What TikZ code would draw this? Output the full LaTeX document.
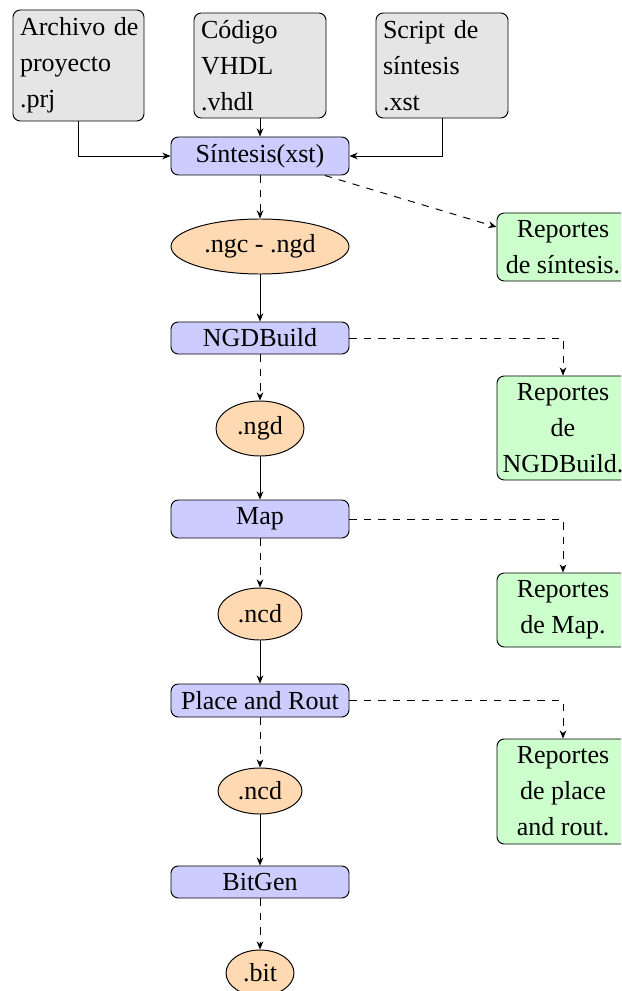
\documentclass[tikz,border=0pt]{standalone}
\usepackage{fontspec}
\setmainfont{Liberation Serif}
\usetikzlibrary{shapes.geometric,arrows.meta}
\newcommand\pxu{0.415pt}
\tikzset{
  every node/.style={font=\fontsize{10.8}{14.9}\selectfont},
  inbox/.style={draw, rounded corners=3pt, fill=black!10, inner sep=0pt, align=left},
  tool/.style={draw, rounded corners=3pt, fill=blue!20, inner sep=0pt, minimum width={178*\pxu}},
  file/.style={draw, ellipse, fill=orange!30, inner sep=0pt},
  report/.style={draw, rounded corners=3pt, fill=green!20, inner sep=0pt, align=center, minimum width={132*\pxu}},
  conn/.style={-{Stealth[length=3.4pt,width=2.8pt]}},
  dconn/.style={conn, dashed},
}
\begin{document}
\begin{tikzpicture}[x=\pxu, y=-\pxu]
\clip (0,0) rectangle (621,991);
\fill[white] (0,0) rectangle (621,991);
% inputs
\node[inbox, text width={117*\pxu}, minimum width={131*\pxu}, minimum height={111*\pxu}] (prj) at (78.5,65.5) {\mbox{Archivo de}\\proyecto\\.prj};
\node[inbox, text width={118*\pxu}, minimum width={132*\pxu}, minimum height={105*\pxu}] (vhd) at (260,65.5) {Código\\VHDL\\.vhdl};
\node[inbox, text width={118*\pxu}, minimum width={132*\pxu}, minimum height={105*\pxu}] (xst) at (442,65.5) {\mbox{Script de}\\síntesis\\.xst};
% main column
\node[tool, minimum height={38*\pxu}] (sint) at (260,156) {Síntesis(xst)};
\node[file, minimum width={178*\pxu}, minimum height={55*\pxu}] (ngc) at (260,246.5) {.ngc - .ngd};
\node[tool, minimum height={32*\pxu}] (ngdb) at (260,338) {NGDBuild};
\node[file, minimum width={88*\pxu}, minimum height={55*\pxu}] (ngd) at (260,428.5) {.ngd};
\node[tool, minimum height={38*\pxu}] (map) at (260,519) {Map};
\node[file, minimum width={84*\pxu}, minimum height={52*\pxu}] (ncda) at (260,614) {.ncd};
\node[tool, minimum height={33*\pxu}] (par) at (260,700.5) {Place and Rout};
\node[file, minimum width={84*\pxu}, minimum height={46*\pxu}] (ncdb) at (260,791) {.ncd};
\node[tool, minimum height={32*\pxu}] (bitgen) at (260,882) {BitGen};
\node[file, minimum width={68*\pxu}, minimum height={46*\pxu}] (bit) at (260,973) {.bit};
% reports
\node[report, minimum height={68*\pxu}] (r1) at (563,247) {Reportes\\de síntesis.};
\node[report, minimum height={104*\pxu}] (r2) at (563,428) {Reportes\\de\\NGDBuild.};
\node[report, minimum height={74*\pxu}] (r3) at (563,610) {Reportes\\de Map.};
\node[report, minimum height={105*\pxu}] (r4) at (563,791.5) {Reportes\\de place\\and rout.};
% connectors
\draw[conn] (prj.south) |- (sint.west);
\draw[conn] (vhd.south) -- (sint.north);
\draw[conn] (xst.south) |- (sint.east);
\draw[dconn] (sint.south) -- (ngc.north);
\draw[dconn] (sint) -- (r1);
\draw[conn] (ngc.south) -- (ngdb.north);
\draw[dconn] (ngdb.south) -- (ngd.north);
\draw[dconn] (ngdb.east) -| (r2.north);
\draw[conn] (ngd.south) -- (map.north);
\draw[dconn] (map.south) -- (ncda.north);
\draw[dconn] (map.east) -| (r3.north);
\draw[conn] (ncda.south) -- (par.north);
\draw[dconn] (par.south) -- (ncdb.north);
\draw[dconn] (par.east) -| (r4.north);
\draw[conn] (ncdb.south) -- (bitgen.north);
\draw[dconn] (bitgen.south) -- (bit.north);
\end{tikzpicture}
\end{document}
